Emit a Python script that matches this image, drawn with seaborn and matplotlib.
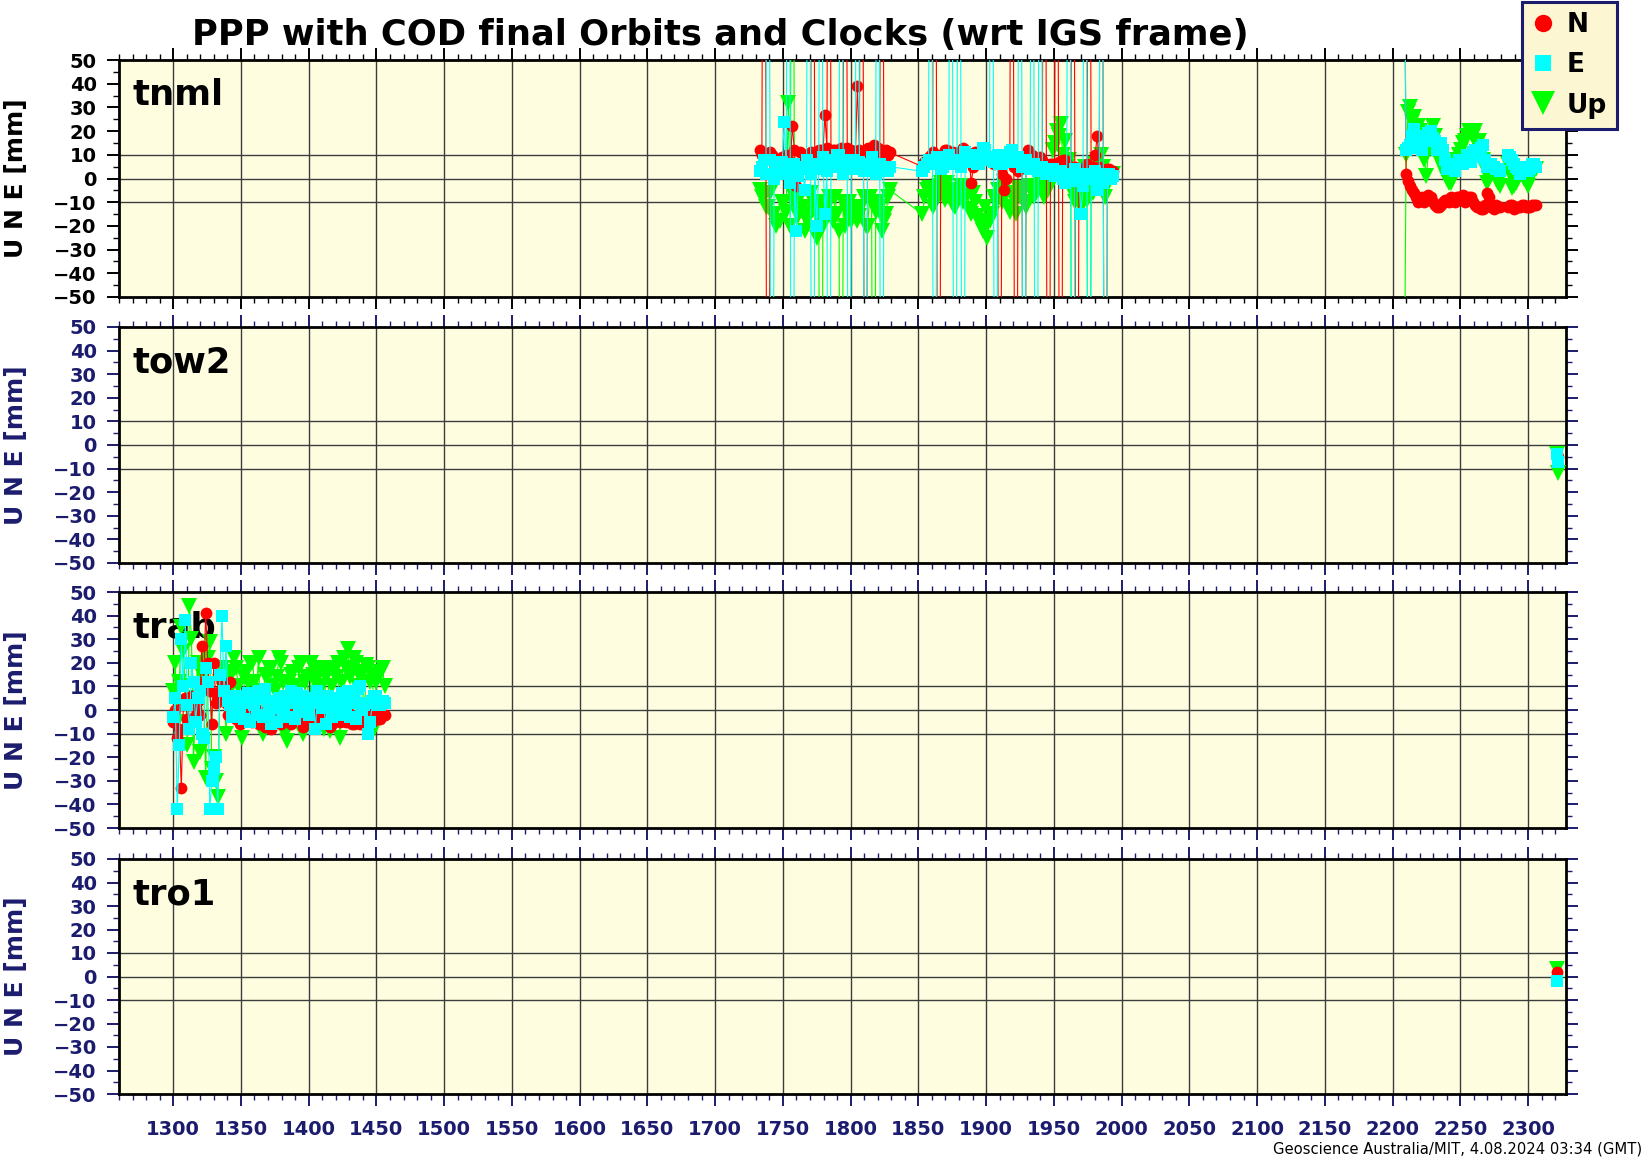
import matplotlib
matplotlib.use("Agg")
import matplotlib.pyplot as plt
from matplotlib.lines import Line2D
from matplotlib.ticker import MultipleLocator
import pandas as pd
import seaborn as sns

# ---------------- text ----------------
title = "PPP with COD final Orbits and Clocks (wrt IGS frame)"
footer = "Geoscience Australia/MIT, 4.08.2024 03:34 (GMT)"
station_names = ["tnml", "tow2", "trab", "tro1"]
component_labels = ["N", "E", "Up"]
y_label = "U N E [mm]"

# ---------------- data (GPS week, mm) ----------------
# values of +/-300 are outliers far outside the plotted range (the spikes)
tnml_day = [1733, 1736, 1739, 1742, 1745, 1748, 1751, 1754, 1757, 1760, 1763, 1766, 1769, 1772, 1775, 1778,
            1781, 1784, 1787, 1790, 1793, 1796, 1799, 1802, 1805, 1808, 1811, 1814, 1817, 1820, 1823, 1826, 1829,
            1853, 1856, 1859, 1862, 1865, 1868, 1871, 1874, 1877, 1880, 1883, 1886, 1889, 1892, 1895, 1898,
            1901, 1904, 1907, 1910, 1913, 1916, 1919, 1922, 1925, 1928, 1931, 1934, 1937, 1940, 1943, 1946,
            1949, 1952, 1955, 1958, 1961, 1964, 1967, 1970, 1973, 1976, 1979, 1982, 1985, 1988, 1991, 1994,
            2206, 2210, 2213, 2216, 2219, 2222, 2225, 2228, 2231, 2234, 2237, 2240, 2243, 2246, 2249, 2252,
            2255, 2258, 2261, 2264, 2267, 2270, 2273, 2276, 2279, 2285, 2288, 2291, 2294, 2297, 2300, 2303, 2306]
tnml_n = [12, 300, -300, 10, 5, 7, 9, 8, 22, -3, 11, 10, 9, 300, 10, 12,
          27, 300, 12, 11, 13, 300, 12, 11, 39, 300, -300, 12, 14, 13, 300, 12, 11,
          5, 8, 10, 300, -300, 9, 12, 10, 8, 11, 13, 10, -2, 11, 9, 12,
          10, 7, 9, -300, -5, 8, 300, -300, 9, -300, 12, 10, 8, 9, 300, -300,
          6, 300, -300, 8, 5, 300, -300, 4, 3, 300, 5, 18, 300, -300, 4, 3,
          300, 2, -3, -6, -10, -8, -9, -8, -11, -12, -10, -9, -8, -10, -8, -7,
          -9, -8, -11, -12, -13, -6, -12, -11, -12, -12, -11, -12, -12, -11, -12, -11, -11]
tnml_e = [3, 8, 300, -300, 6, 2, 24, 300, -300, -22, 4, -5, 300, -300, -20, 300,
          -15, -300, 8, 10, 300, 5, -300, 8, 300, 4, -300, 6, 5, 300, -300, 4, 5,
          3, 6, 300, -300, 8, 5, 7, 300, -300, 300, -300, 9, 8, 10, 6, 13,
          8, 300, -300, 6, 10, 9, 12, 8, 300, -300, 6, 300, -300, 300, 3, 2,
          4, 1, 3, -2, 300, -300, 0, -15, 300, -300, 2, -5, 300, -300, 2, 1,
          300, 12, 14, 21, 15, 12, 18, 20, 16, 14, 12, 4, 5, 3, 8, 6,
          10, 7, 12, 9, 14, 5, 6, 4, 3, 10, 8, 5, 2, 4, 3, 6, 5]
tnml_u = [-5, -8, -12, -15, -20, -18, -10, 32, 300, -12, -8, -22, -15, -10, -25, -300,
          -12, -8, -18, -15, -300, -20, -10, -15, -18, -12, -20, -8, -300, -10, -22, -15, -5,
          -15, -5, -8, -10, -3, -6, -2, -8, -12, -5, -10, -4, -15, -10, -18, -22,
          -25, -15, -10, -8, -3, -12, -6, -15, -8, -5, -10, -4, -6, -2, -8, -5,
          12, 20, 23, 16, 8, -300, -8, -12, 5, -300, -6, 8, 10, -8, 0, 2,
          -300, 10, 30, 26, 22, 14, 1, 15, 18, 8, 4, 0, -2, 6, 10, 15,
          18, 19, 20, 16, 8, -2, 3, 0, -3, 6, -4, -2, 3, 0, -3, 2, 4]

# additional tnml solutions between the ones above
tnml_day2 = [1734.5, 1737.5, 1740.5, 1743.5, 1746.5, 1749.5, 1752.5, 1755.5, 1758.5, 1761.5, 1764.5, 1767.5,
             1770.5, 1773.5, 1776.5, 1779.5, 1782.5, 1785.5, 1788.5, 1791.5, 1794.5, 1797.5, 1800.5, 1803.5,
             1806.5, 1809.5, 1812.5, 1815.5, 1818.5, 1821.5, 1824.5, 1827.5,
             1854.5, 1857.5, 1860.5, 1863.5, 1866.5, 1869.5, 1872.5, 1875.5, 1878.5, 1881.5, 1884.5, 1887.5,
             1890.5, 1893.5, 1896.5, 1899.5, 1902.5, 1905.5, 1908.5, 1911.5, 1914.5, 1917.5, 1920.5, 1923.5,
             1926.5, 1929.5, 1932.5, 1935.5, 1938.5, 1941.5, 1944.5, 1947.5, 1950.5, 1953.5, 1956.5, 1959.5,
             1962.5, 1965.5, 1968.5, 1971.5, 1974.5, 1977.5, 1980.5, 1983.5, 1986.5, 1989.5, 1992.5,
             2211.5, 2214.5, 2217.5, 2220.5, 2223.5, 2226.5, 2229.5, 2232.5, 2235.5, 2238.5, 2241.5, 2244.5,
             2247.5, 2250.5, 2253.5, 2256.5, 2259.5, 2262.5, 2265.5, 2268.5, 2271.5, 2274.5, 2277.5,
             2286.5, 2289.5, 2292.5, 2295.5, 2298.5, 2301.5, 2304.5]
tnml_n2 = [10, 9, 11, 8, 6, 9, 10, 7, 12, 5, 8, 10, 11, 9, 12, 10, 13, 11, 12, 10, 11, 13, 12, 10,
           12, 11, 13, 12, 10, 12, 11, 10,
           7, 9, 11, 8, 10, 12, 9, 11, 10, 8, 12, 9, 5, 10, 8, 11, 9, 6, 8, 2, 0, 7, 5, 3,
           8, 6, 10, 9, 7, 8, 5, 6, 4, 7, 8, 6, 3, 5, 4, 2, 6, 4, 10, 5, 3, 4, 2,
           -1, -5, -8, -9, -10, -7, -10, -12, -11, -9, -10, -9, -8, -9, -10, -8, -10, -12, -13, -11, -8, -13, -12,
           -11, -13, -12, -11, -12, -12, -11]
tnml_e2 = [5, 2, 8, 0, 4, 7, 3, -2, 6, 1, 5, 8, 2, 6, 4, 9, 3, 7, 5, 10, 2, 6, 8, 4,
           7, 3, 5, 9, 2, 6, 4, 3,
           5, 8, 6, 9, 4, 7, 10, 6, 8, 5, 11, 7, 9, 6, 8, 12, 9, 7, 10, 6, 8, 11, 7, 9,
           5, 8, 4, 6, 3, 5, 2, 4, 1, 3, 0, 2, -1, 4, 1, -3, 2, 0, 3, 1, -2, 2, 0,
           13, 18, 17, 13, 16, 19, 17, 12, 15, 8, 6, 4, 6, 7, 8, 9, 11, 10, 13, 8, 6, 5, 4,
           9, 6, 4, 3, 5, 4, 6]
tnml_u2 = [-8, -12, -6, -15, -18, -10, -14, -20, -8, -16, -12, -18, -6, -14, -10, -20, -12, -16, -8, -22,
           -10, -14, -18, -12, -16, -8, -20, -10, -14, -12, -18, -8,
           -8, -4, -12, -6, -2, -9, -5, -11, -7, -3, -8, -13, -6, -16, -20, -12, -18, -8, -5, -10, -6, -14,
           -9, -4, -7, -12, -3, -8, -5, -1, -6, -3, 15, 18, 10, 5, -5, -10, -6, 2, -9, -4, 6, -2, 5, -3, 1,
           28, 24, 18, 20, 8, 12, 22, 12, 6, 2, -2, 4, 8, 12, 16, 20, 18, 14, 12, 4, 0, 2, -2,
           2, -3, 0, 4, -1, 1, 3]

tow2_day = [2321, 2322]
tow2_n = [-4, -5]
tow2_e = [-4, -7]
tow2_u = [-4, -12]

trab_day = [1300, 1303, 1306, 1309, 1312, 1315, 1318, 1321, 1324, 1327, 1330, 1333, 1336, 1339, 1342, 1345,
            1348, 1351, 1354, 1357, 1360, 1363, 1366, 1369, 1372, 1375, 1378, 1381, 1384, 1387, 1390, 1393,
            1396, 1399, 1402, 1405, 1408, 1411, 1414, 1417, 1420, 1423, 1426, 1429, 1432, 1435, 1438, 1441,
            1444, 1447, 1450, 1453, 1456]
trab_n = [-5, -12, -33, 5, 2, -3, 4, 27, 41, 8, 20, 5, 12, 3, 12, -3,
          0, -5, -2, 1, -4, -6, 0, -3, -8, -2, -5, -4, 0, -6, -3, -1,
          -7, -4, -2, -5, -3, 0, -4, -6, -2, -5, -3, -1, -6, -4, -6, -3,
          -2, -5, -1, -4, -2]
trab_e = [-3, -42, 30, 38, -8, 12, 5, -10, 18, -42, -25, -42, 40, 27, 2, 6,
          -2, 3, 5, -5, 2, 8, -3, 4, -6, 1, 5, -2, 3, 8, -4, 2,
          6, -1, 3, -8, 4, 2, 6, -3, 1, 5, -2, 8, 3, -4, 10, 2,
          -10, 4, 6, 2, 3]
trab_u = [8, -5, 35, 10, 44, -22, 20, 15, -29, 29, -20, -37, 18, -10, 14, 22,
          10, -12, 16, 20, 12, 22, -10, 14, 18, 8, 22, 12, -13, 15, 10, 18,
          -10, 14, 20, 12, 16, -8, 18, 10, 14, -12, 22, 26, 17, 20, 14, -5,
          18, 15, 12, 16, 10]

# additional trab solutions between the ones above
trab_day2 = [1301.5, 1304.5, 1307.5, 1310.5, 1313.5, 1316.5, 1319.5, 1322.5, 1325.5, 1328.5, 1331.5, 1334.5,
             1337.5, 1340.5, 1343.5, 1346.5, 1349.5, 1352.5, 1355.5, 1358.5, 1361.5, 1364.5, 1367.5, 1370.5,
             1373.5, 1376.5, 1379.5, 1382.5, 1385.5, 1388.5, 1391.5, 1394.5, 1397.5, 1400.5, 1403.5, 1406.5,
             1409.5, 1412.5, 1415.5, 1418.5, 1421.5, 1424.5, 1427.5, 1430.5, 1433.5, 1436.5, 1439.5, 1442.5,
             1445.5, 1448.5, 1451.5, 1454.5]
trab_n2 = [0, -8, 2, -4, 6, 1, -2, 12, 20, -6, 3, 8, 6, -2, 1, -4, -6, -1, -3, -5, 0, -2, -7, -4,
           -1, -3, -6, -2, -5, -4, -1, -3, -6, -2, 0, -4, -5, -3, -7, -2, -4, -1, -5, -3, -6, -2,
           -4, -5, -3, -1, -4, -2]
trab_e2 = [5, -15, 10, 2, 20, -5, 8, -12, 12, -30, -20, 15, 8, 4, -3, 6, 1, -4, 7, 3, -2, 5, 9, -1,
           4, -5, 2, 6, -3, 3, 7, 0, 4, -2, 5, 8, 1, -6, 3, 5, -1, 7, 2, -3, 4, 9, 0, 3,
           -5, 6, 2, 4]
trab_u2 = [20, 12, 25, -15, 30, 5, -18, 10, 22, -25, -30, 12, 8, 16, 10, 18, -6, 14, 12, 20, 8, -8, 15, 18,
           10, 14, 20, -10, 12, 16, 8, 20, 12, -6, 15, 18, 10, 14, -9, 16, 20, 12, 18, 14, 22, 10,
           16, 19, 12, -8, 14, 18]

tro1_day = [2321]
tro1_n = [2]
tro1_e = [-2]
tro1_u = [3]

# ---------------- style ----------------
RED, CYAN, GREEN = "#ff0000", "#00ffff", "#00ff00"
NAVY = "#1c1c6e"
AX_BG = "#fffde0"
GRID = "#3c3c3c"
BOLD = dict(family="DejaVu Sans", weight="bold")

W, H = 1644, 1158
fig = plt.figure(figsize=(W / 100, H / 100), dpi=100)

left_px, right_px = 119, 1566
panel_px = [(60, 297), (327, 563), (592, 828), (859, 1094)]

stations = [
    [(tnml_day, tnml_n, tnml_e, tnml_u), (tnml_day2, tnml_n2, tnml_e2, tnml_u2)],
    [(tow2_day, tow2_n, tow2_e, tow2_u)],
    [(trab_day, trab_n, trab_e, trab_u), (trab_day2, trab_n2, trab_e2, trab_u2)],
    [(tro1_day, tro1_n, tro1_e, tro1_u)],
]

components = [("Up", GREEN, "v", 11.5), ("N", RED, "o", 8.5), ("E", CYAN, "s", 8.2)]

for i, ((top, bot), name, parts) in enumerate(zip(panel_px, station_names, stations)):
    ax = fig.add_axes([left_px / W, 1 - bot / H, (right_px - left_px) / W, (bot - top) / H])
    ax.set_facecolor(AX_BG)
    fc = "black" if i == 0 else NAVY

    df = pd.concat([pd.DataFrame({"day": d, "N": n, "E": e, "Up": u}) for d, n, e, u in parts],
                   ignore_index=True).sort_values("day").reset_index(drop=True)
    df["seg"] = (df["day"].diff() > 100).cumsum()

    for comp, col, mk, ms in components:
        sns.lineplot(data=df, x="day", y=comp, units="seg", estimator=None, sort=False,
                     color=col, marker=mk, markersize=ms, markeredgewidth=0,
                     markeredgecolor=col, linewidth=0.8, legend=False, ax=ax, zorder=3)

    ax.set_xlim(1260, 2328)
    ax.set_ylim(-50, 50)
    ax.xaxis.set_major_locator(MultipleLocator(50))
    ax.xaxis.set_minor_locator(MultipleLocator(10))
    ax.yaxis.set_major_locator(MultipleLocator(10))
    ax.yaxis.set_minor_locator(MultipleLocator(5))

    ax.set_axisbelow(True)
    ax.grid(axis="x", which="major", color=GRID, linewidth=1.0)
    for yv in (-10, 0, 10):
        ax.axhline(yv, color=GRID, linewidth=1.0, zorder=0.6)

    ax.tick_params(which="both", direction="out", top=True, right=True, bottom=True, left=True,
                   color=fc, labelcolor=fc)
    ax.tick_params(which="major", length=8.5, width=1.4)
    ax.tick_params(which="minor", length=4.5, width=1.0)
    ax.tick_params(axis="y", pad=7.5)
    ax.tick_params(axis="x", pad=10)
    for lab in ax.get_yticklabels():
        lab.set_fontsize(14)
        lab.set_fontfamily("DejaVu Sans")
        lab.set_fontweight("bold")
    if i == 3:
        for lab in ax.get_xticklabels():
            lab.set_fontsize(14)
            lab.set_fontfamily("DejaVu Sans")
            lab.set_fontweight("bold")
    else:
        ax.tick_params(axis="x", labelbottom=False)

    ax.set_xlabel("")
    ax.set_ylabel(y_label, fontsize=18, color=fc, **BOLD)
    ax.yaxis.set_label_coords(-0.063, 0.5)

    for s in ax.spines.values():
        s.set_linewidth(2.0)
        s.set_color("black")

    ax.annotate(name, xy=(0, 1), xycoords="axes fraction", xytext=(10, -32.5),
                textcoords="offset points", ha="left", va="baseline",
                fontsize=25.5, color="black", zorder=1.5, **BOLD)

fig.text(192 / W, 1 - 35 / H, title, ha="left", va="center", fontsize=25.4, color="black", **BOLD)
fig.text(1642 / W, 1 - 1149 / H, footer, ha="right", va="center", fontsize=10.6,
         family="DejaVu Sans", color="black")

handles = [
    Line2D([], [], linestyle="none", marker="o", color=RED, markersize=12.5, markeredgewidth=0),
    Line2D([], [], linestyle="none", marker="s", color=CYAN, markersize=11, markeredgewidth=0),
    Line2D([], [], linestyle="none", marker="v", color=GREEN, markersize=17, markeredgewidth=0),
]
leg = fig.legend(handles, component_labels, loc="upper right", bbox_to_anchor=(1617 / W, 1 - 2 / H),
                 frameon=True, fancybox=False, framealpha=1, facecolor="#fdf6d2", edgecolor=NAVY,
                 prop=dict(family="DejaVu Sans", weight="bold", size=19), labelspacing=0.54,
                 handlelength=0.8, handletextpad=0.5, borderpad=0.38, borderaxespad=0)
leg.get_frame().set_linewidth(2.2)

fig.savefig("out.png", dpi=100)
